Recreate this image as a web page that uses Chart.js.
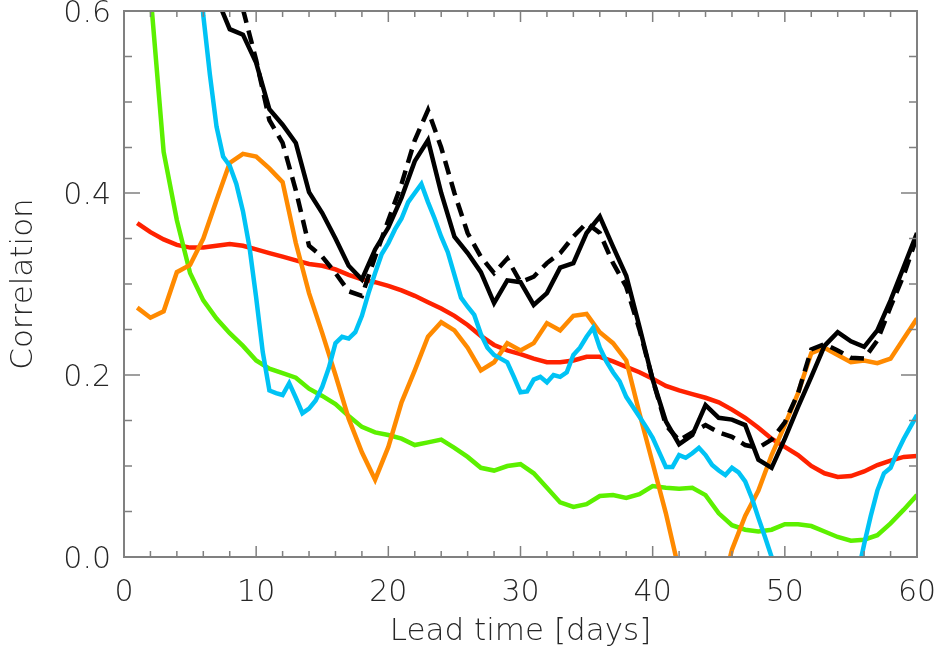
<!DOCTYPE html>
<html>
<head>
<meta charset="utf-8">
<script src="https://cdn.jsdelivr.net/npm/chart.js@4"></script>
<style>
  html, body { margin: 0; padding: 0; background: #fff; }
</style>
</head>
<body>
<canvas id="chart" width="936" height="654"></canvas>
<script>
// lead time in days for the daily series
const days = Array.from({ length: 60 }, (_, i) => i + 1);

const redValues = [
  0.367, 0.357, 0.349, 0.343, 0.340, 0.340, 0.342, 0.344, 0.342, 0.338,
  0.334, 0.330, 0.326, 0.322, 0.320, 0.316, 0.310, 0.305, 0.302, 0.298,
  0.293, 0.287, 0.280, 0.273, 0.265, 0.255, 0.243, 0.233, 0.227, 0.223,
  0.218, 0.214, 0.214, 0.216, 0.220, 0.220, 0.215, 0.209, 0.203, 0.196,
  0.188, 0.183, 0.179, 0.175, 0.170, 0.162, 0.153, 0.142, 0.130, 0.121,
  0.112, 0.100, 0.092, 0.088, 0.089, 0.094, 0.101, 0.106, 0.110, 0.111
];

const greenValues = [
  null, 0.620, 0.445, 0.370, 0.312, 0.282, 0.262, 0.246, 0.232, 0.216,
  0.207, 0.202, 0.197, 0.185, 0.177, 0.168, 0.155, 0.143, 0.137, 0.134,
  0.130, 0.123, 0.126, 0.129, 0.120, 0.110, 0.098, 0.095, 0.100, 0.102,
  0.092, 0.076, 0.060, 0.055, 0.058, 0.067, 0.068, 0.065, 0.069, 0.078,
  0.076, 0.075, 0.076, 0.068, 0.048, 0.035, 0.030, 0.028, 0.030, 0.036,
  0.036, 0.034, 0.028, 0.022, 0.018, 0.019, 0.024, 0.037, 0.052, 0.068
];

const orangeValues = [
  0.274, 0.263, 0.270, 0.313, 0.321, 0.350, 0.392, 0.433, 0.443, 0.440,
  0.427, 0.412, 0.345, 0.290, 0.246, 0.200, 0.152, 0.115, 0.085, 0.121,
  0.170, 0.205, 0.242, 0.258, 0.249, 0.230, 0.205, 0.214, 0.235, 0.227,
  0.235, 0.257, 0.249, 0.265, 0.267, 0.247, 0.235, 0.216, 0.158, 0.103,
  0.048, -0.015, -0.060, -0.085, -0.050, 0.008, 0.045, 0.073, 0.112, 0.145,
  0.180, 0.224, 0.230, 0.222, 0.214, 0.216, 0.213, 0.218, 0.240, 0.262
];

const blackValues = [
  null, null, null, null, null, null, 0.615, 0.580, 0.574, 0.543,
  0.492, 0.475, 0.455, 0.401, 0.378, 0.350, 0.320, 0.305, 0.338, 0.362,
  0.395, 0.435, 0.458, 0.400, 0.352, 0.334, 0.313, 0.279, 0.304, 0.302,
  0.277, 0.290, 0.318, 0.323, 0.356, 0.374, 0.341, 0.309, 0.253, 0.195,
  0.149, 0.124, 0.134, 0.167, 0.153, 0.151, 0.145, 0.107, 0.098, 0.130,
  0.165, 0.198, 0.232, 0.247, 0.237, 0.231, 0.249, 0.282, 0.319, 0.356
];

const dashedValues = [
  null, null, null, null, null, null, null, null, 0.602, 0.546,
  0.480, 0.455, 0.403, 0.342, 0.330, 0.312, 0.292, 0.287, 0.330, 0.370,
  0.410, 0.458, 0.491, 0.450, 0.400, 0.356, 0.330, 0.312, 0.328, 0.302,
  0.308, 0.323, 0.334, 0.352, 0.367, 0.356, 0.323, 0.297, 0.250, 0.195,
  0.145, 0.128, 0.137, 0.145, 0.137, 0.132, 0.123, 0.120, 0.129, 0.148,
  0.180, 0.228, 0.234, 0.227, 0.219, 0.218, 0.238, 0.275, 0.310, 0.352
];

// the cyan series is sampled every half day
const cyanDays = [
  5.5, 6, 6.5, 7, 7.5, 8, 8.5, 9, 9.5, 10, 10.5, 11, 11.5, 12, 12.5, 13, 13.5,
  14, 14.5, 15, 15.5, 16, 16.5, 17, 17.5, 18, 18.5, 19, 19.5, 20, 20.5,
  21, 21.5, 22, 22.5, 23, 23.5, 24, 24.5, 25, 25.5, 26, 26.5, 27, 27.5,
  28, 28.5, 29, 29.5, 30, 30.5, 31, 31.5, 32, 32.5, 33, 33.5, 34, 34.5,
  35, 35.5, 36, 36.5, 37, 37.5, 38, 38.5, 39, 39.5, 40, 40.5, 41, 41.5,
  42, 42.5, 43, 43.5, 44, 44.5, 45, 45.5, 46, 46.5, 47, 47.5, 48, 48.5,
  49, 50, 51, 52, 53, 54, 55, 55.5, 56, 56.5, 57, 57.5, 58, 58.5, 59,
  59.5, 60
];
const cyanValues = [
  0.690, 0.595, 0.530, 0.473, 0.440, 0.430, 0.410, 0.380, 0.340, 0.285, 0.225, 0.183, 0.180, 0.178, 0.191, 0.175, 0.158,
  0.163, 0.172, 0.187, 0.208, 0.235, 0.242, 0.240, 0.247, 0.265, 0.290, 0.312, 0.333, 0.345, 0.360,
  0.372, 0.390, 0.400, 0.410, 0.390, 0.372, 0.352, 0.335, 0.310, 0.285, 0.275, 0.266, 0.245, 0.230,
  0.222, 0.218, 0.214, 0.198, 0.181, 0.182, 0.195, 0.198, 0.192, 0.200, 0.198, 0.203, 0.222, 0.230,
  0.242, 0.252, 0.230, 0.215, 0.203, 0.193, 0.176, 0.165, 0.154, 0.143, 0.131, 0.115, 0.099, 0.099,
  0.112, 0.109, 0.114, 0.120, 0.112, 0.101, 0.095, 0.090, 0.098, 0.093, 0.083, 0.065, 0.043, 0.022,
  0.000, -0.045, -0.080, -0.100, -0.100, -0.080, -0.045, -0.020, 0.014, 0.045, 0.073, 0.092, 0.098, 0.115, 0.130,
  0.143, 0.156
];

const xTickStep = 10;
const yTickStep = 0.2;

function pairs(xs, ys) {
  return xs.map((x, i) => ({ x: x, y: ys[i] }));
}

const TEXT = '#262626';
const FONT = '"DejaVu Sans", "Noto Sans", sans-serif';

// IDL-style box with inward ticks on all four sides
const boxTicks = {
  id: 'boxTicks',
  afterDraw(chart) {
    const { ctx, chartArea: a, scales: { x, y } } = chart;
    ctx.save();
    ctx.strokeStyle = '#808080';
    ctx.lineWidth = 1.5;
    ctx.beginPath();
    for (let v = 0; v <= 60; v += 2) {
      const px = x.getPixelForValue(v);
      const len = v % 10 === 0 ? 11 : 6;
      ctx.moveTo(px, a.bottom); ctx.lineTo(px, a.bottom - len);
      ctx.moveTo(px, a.top); ctx.lineTo(px, a.top + len);
    }
    for (let i = 0; i <= 12; i++) {
      const py = y.getPixelForValue(i * 0.05);
      const len = i % 4 === 0 ? 16 : 8;
      ctx.moveTo(a.left, py); ctx.lineTo(a.left + len, py);
      ctx.moveTo(a.right, py); ctx.lineTo(a.right - len, py);
    }
    ctx.stroke();
    ctx.lineWidth = 2;
    ctx.strokeRect(a.left, a.top, a.right - a.left, a.bottom - a.top);
    ctx.restore();
  }
};

const line = (data, color, extra) => Object.assign({
  data: data,
  borderColor: color,
  borderWidth: 4.5,
  pointRadius: 0,
  tension: 0,
  clip: 0,
  spanGaps: false
}, extra || {});

new Chart(document.getElementById('chart'), {
  type: 'line',
  data: {
    datasets: [
      line(pairs(days, blackValues), '#000000'),
      line(pairs(days, dashedValues), '#000000', { borderDash: [14, 8] }),
      line(pairs(cyanDays, cyanValues), '#00c3f5'),
      line(pairs(days, orangeValues), '#ff8a00'),
      line(pairs(days, greenValues), '#5cf000'),
      line(pairs(days, redValues), '#ff2200')
    ]
  },
  options: {
    responsive: false,
    animation: false,
    layout: { padding: { top: 11, right: 19, left: 0, bottom: 0 } },
    plugins: { legend: { display: false }, tooltip: { enabled: false } },
    scales: {
      x: {
        type: 'linear',
        min: 0,
        max: 60,
        grid: { display: false, drawTicks: false },
        border: { display: false },
        ticks: {
          stepSize: xTickStep,
          color: TEXT,
          padding: 18,
          maxRotation: 0,
          font: { family: FONT, size: 30, weight: '200' }
        },
        title: {
          display: true,
          text: 'Lead time [days]',
          color: TEXT,
          padding: { top: 0, bottom: 3 },
          font: { family: FONT, size: 31, weight: '200' }
        },
        afterFit(scale) {
          scale.height = 97;
          scale.paddingLeft = 0;
          scale.paddingRight = 0;
        }
      },
      y: {
        min: 0,
        max: 0.6,
        grid: { display: false, drawTicks: false },
        border: { display: false },
        ticks: {
          stepSize: yTickStep,
          color: TEXT,
          padding: 13,
          labelOffset: 3,
          font: { family: FONT, size: 30, weight: '200' },
          callback: (v) => v.toFixed(1)
        },
        title: {
          display: true,
          text: 'Correlation',
          color: TEXT,
          padding: { top: 5, bottom: 0 },
          font: { family: FONT, size: 31, weight: '200' }
        },
        afterFit(scale) {
          scale.width = 124;
          scale.paddingTop = 0;
          scale.paddingBottom = 0;
        }
      }
    }
  },
  plugins: [boxTicks]
});
</script>
</body>
</html>
